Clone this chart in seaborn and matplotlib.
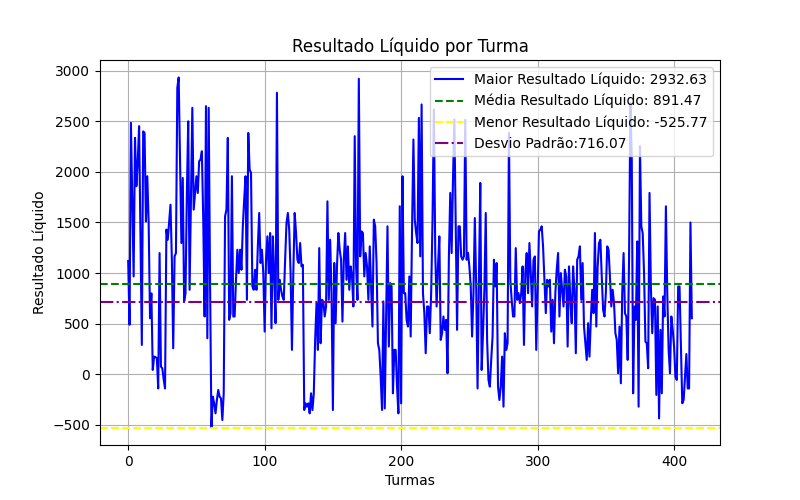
import matplotlib
matplotlib.use("Agg")
import matplotlib.pyplot as plt
import seaborn as sns
import pandas as pd

# resultado liquido por turma
resultado_liquido = [
    1120, 490, 2485, 1700, 967, 2336, 1858, 2100, 2452, 1400,
    290, 2400, 2385, 1510, 1957, 1495, 554, 800, 43, 175,
    170, 160, -140, 1198, 76, 60, -50, -140, 1430, 1330,
    1500, 1676, 1132, 257, 1165, 1198, 2831, 2932.63, 2122, 1297,
    1940, 720, 800, 1792, 2500, 835, 1700, 2633, 1627, 1792,
    1957, 1792, 2105, 2122, 2204, 1528, 571, 2650, 356, 2633,
    900, -525.77, -221, -287, -386, -254, -155, -221, -238, -452,
    -188, 1561, 1627, 2336, 538, 604, 1957, 571, 571, 934,
    1231, 1000, 1231, 1033, 1462, 1726, 1957, 736, 2385, 2023,
    1990, 868, 835, 1033, 835, 1264, 1594, 1100, 1231, 1000,
    422, 1132, 1363, 1000, 1396, 455, 1363, 967, 505, 2782,
    736, 934, 835, 769, 736, 1132, 1495, 1594, 1429, 1000,
    241, 1000, 1594, 1396, 1132, 1099, 1297, 1066, 1082, -353,
    -287, -320, -287, -386, -188, -353, -188, 340, 703, 241,
    1247, 307, 736, 720, 571, 670, 1709, 736, 1330, 802,
    -353, 1100, 505, 1066, 1396, 1231, 1132, 521, 1132, 1396,
    934, 1264, 835, 1066, 967, 670, 2353, 1066, 736, 2920,
    1165, 1412, 1396, 967, 1198, 1066, 736, 1264, 868, 472,
    1528, 1462, 1099, 307, 241, -23, -353, 720, -337, 538,
    1462, 274, 901, 868, -188, 241, 241, -122, -386, 1660,
    -287, 1957, 802, 802, 538, 472, 967, 373, 1429, 2320,
    1528, 1396, 1297, 2534, 1165, 2666, 802, 604, 208, 670,
    670, 406, 802, 1528, 2617, 1198, 670, 1066, 1363, 340,
    406, 571, 439, 538, 10, 1165, 1792, 1198, 1924, 2518,
    1462, 439, 1462, 1462, 1165, 1132, 1165, 2514, 1132, 1200,
    1066, 868, 373, 802, 1544, 868, -140, 934, 1891, 43,
    406, 835, 1594, 340, -56, -122, 142, 373, 1132, 868,
    1099, -122, -254, -122, 175, -320, 406, 241, 307, 2385,
    934, 736, 571, 571, 1247, 736, 802, 703, 802, 1066,
    290, 1000, 1198, 802, 1297, 1000, 670, 1132, 1165, 241,
    802, 1412, 1429, 1462, 1264, 934, 604, 934, 868, 934,
    422, 736, 307, 802, 1033, 1198, 571, 1000, 835, 670,
    1033, 967, 274, 1066, 736, 505, 1066, 835, 208, 1132,
    1165, 1264, 736, 1099, 472, 307, 142, 505, 175, 538,
    835, 604, 1396, 472, 1066, 1297, 1330, 967, 637, 571,
    802, 1264, 1231, 967, 670, 835, 703, 406, 340, 10,
    472, -89, 802, 1198, 604, 571, 142, 1132, 2680, 2122,
    -188, 670, 538, 1313, -320, 2254, 1462, 1396, 1000, 323,
    307, 60, 1792, 868, 406, 752, 736, -204, 670, -436,
    439, -188, 769, 571, 1660, 802, 241, 10, 571, 439,
    274, -23, -56, 868, 868, 274, -287, -254, -23, 200,
    -140, -140, 1500, 554,
]

maior_resultado = 2932.63
media_resultado = 891.47
menor_resultado = -525.77
desvio_padrao = 716.07

df = pd.DataFrame({
    "Turma": range(len(resultado_liquido)),
    "Resultado Liquido": resultado_liquido,
})

plt.figure(figsize=(8, 5))
sns.lineplot(data=df, x="Turma", y="Resultado Liquido", color="blue",
             label=f"Maior Resultado Líquido: {maior_resultado:.2f}")
plt.axhline(media_resultado, color="green", linestyle="--",
            label=f"Média Resultado Líquido: {media_resultado:.2f}")
plt.axhline(menor_resultado, color="yellow", linestyle="--",
            label=f"Menor Resultado Líquido: {menor_resultado:.2f}")
plt.axhline(desvio_padrao, color="purple", linestyle="-.",
            label=f"Desvio Padrão:{desvio_padrao:.2f}")
plt.title("Resultado Líquido por Turma")
plt.xlabel("Turmas")
plt.ylabel("Resultado Líquido")
plt.legend(loc="upper right")
plt.grid(True)
plt.savefig("out.png", dpi=100)
